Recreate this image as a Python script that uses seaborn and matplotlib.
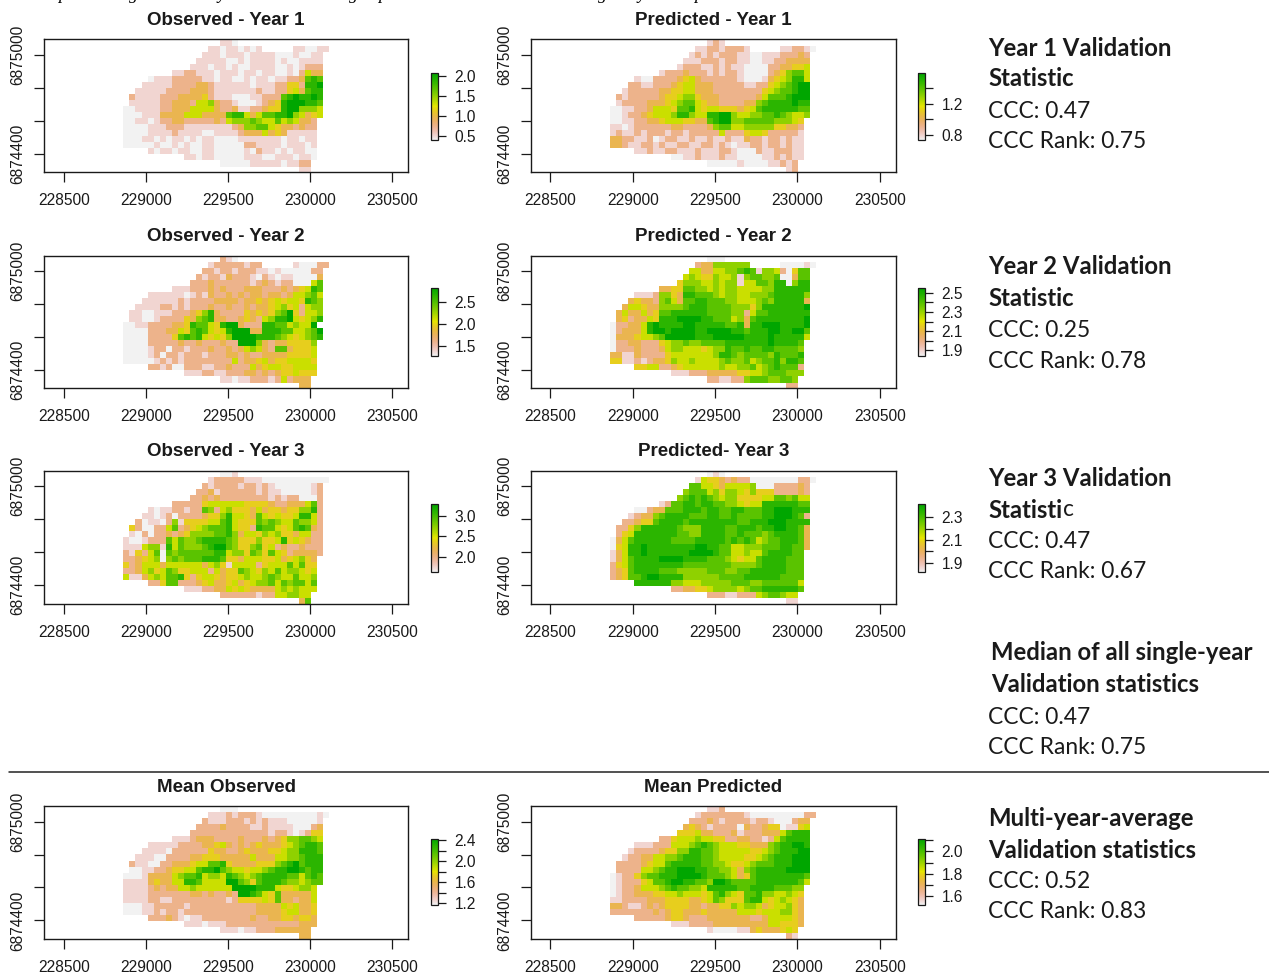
import colorsys
import numpy as np
import matplotlib
matplotlib.use("Agg")
import matplotlib.pyplot as plt
from matplotlib.colors import ListedColormap
from matplotlib.lines import Line2D
import seaborn as sns

sns.set_theme(style="ticks")
plt.rcParams["font.family"] = ["Liberation Sans", "DejaVu Sans"]

W, H = 1269, 974

# raster grid
N_ROWS, N_COLS = 22, 34
GRID_X0 = 228863
GRID_Y0 = 6875095
CELL = 36.8
X_LIM = (228380, 230597)
Y_LIM = (6874287, 6875095)
X_TICKS = [228500, 229000, 229500, 230000, 230500]
Y_TICKS = [6874400, 6874600, 6874800, 6875000]
Y_LABELS = ["6874400", "", "", "6875000"]

# first filled column of each raster row
ROW_START = [16, 14, 13, 12, 11, 8, 4, 3, 2, 1, 1, 0, 0, 0, 0, 0, 0, 0, 4, 10, 16, 29]

# share of the legend range that each level 0-9 stands for
LEVEL_SHARE = [0.0, 0.07, 0.21, 0.33, 0.44, 0.55, 0.66, 0.77, 0.88, 1.0]

# cell values as levels 0-9 between the low and high end of each legend, "." = no data
obs_y1 = [
    "110",
    "110110101.....110011",
    "11101110111100010011",
    "111110010111101001111",
    "1110110100111100101222",
    "11 2211 101110110110010 2533",
    "01112 22221 1011001011011 223 787",
    "111 11 2 222332 11111101112 2442 889",
    "11111 22 223332 111111121 122 453 788",
    "21 111 222 333342 11100011 222 7898 898",
    "11111 223 332 556 322 10001 23 4 8999 887",
    "001111 223 335555 32 23 1122 344 899 6 665",
    "00011 13 33 3555 333 3 788 53 5 77889 6 5 34 5",
    "00110122 33 22222 32 566 67655 756 53 32 .",
    "00001112 221 11111 1123 6677 543 32322",
    "00001111 211 110011 112 3335 343 11111",
    "00011010 11010110 00011111 11011011",
    "00000100 10100110 00002211 11011101",
    "10110110 01100000 10211010 1100",
    "11011 00000 11100 11101 10",
    "000001111101122",
    "11",
]
pred_y1 = [
    "121",
    "112212221.....112210",
    "12121222 1100111 22232",
    "111222122 11001 12 23333",
    "1222112121 10000 22 33445",
    "1222 322212122 10000 23 46 775",
    "1002 2223 45 3222222 10001 345 6 885",
    "22112 2234 55 33322222 112 245 67 899",
    "122222 3344 55 333222222 22 456 77 899",
    "2122222 34 4566 4 33322222 23 57 778 999",
    "1222 233 34 5677 5 43322223 3 678 888 988",
    "00 1122 3555 4778 54 55444 345 788 888 877",
    "00 1223 4555 6886 55 8899 655 667 7876 556",
    "00 1122 3345 5544 33 7899 6677 777 666 54 .",
    "11 0122 2222 3322 22 3677 5566 666 44332",
    "12 1121 2221 2212 22 2252 2245 542 22221",
    "33221120 12211211 21121132 21221211",
    "33211221 21122112 21210112 21221211",
    "11211221 11211122 10002112 2211",
    "00112 11121 10000 11212 11",
    "00000 10000 11212",
    "12",
]
obs_y2 = [
    "210",
    "122222122.....100022",
    "22122122 21101000 0022",
    "21221322 21021011 00003",
    "22232222 22123212 200057",
    "1112 2232322 23332223 234 587",
    "1111 1101 2132 23232 332332 355 675",
    "11111 1212 2223 33323 343454 554 876",
    "111122 1212 2232 23223 233456 452 566",
    "1100111 2223 468 32222 4343 467 9 42 556",
    "1100122 2243 678 33223 4325 688 9 54 568",
    "0011222 2334 877 54 899 3222 887 7 56 559",
    "0000 2223 354 787 545 899 93 3888 77 556 79",
    "0000 2222 47878 5454 699 99888 765 45678",
    "0000 22222 322322 2322 9996 323 344 446",
    "0000 122 0 22122232232 3565 327 734 445",
    "00001202 21222122 23323223 33344445",
    "00000121 21222222 22523345 34455554",
    "22120022 21122322 25345544 5555",
    "1112211 2223 3232 3445 444",
    "11011222 1252333",
    "33",
]
pred_y2 = [
    "000",
    "233666666.....000010",
    "55335566 78716652 0477",
    "565446556 1 67766 700 377",
    "4666556566 1 55776 880 688",
    "3344 776656566 555566 888888",
    "1112 6643 887776566 556667 888886",
    "34332 6753 778877766 555676 888883",
    "355433 6666 788877776 664688 888889",
    "3533534 7788 888877776 625778 888888",
    "3423354 8889 999887775 637888 888889",
    "02 2335 898888 998888877 838899 988889",
    "02 3335 899899 998899998 878889 988997",
    "03 3345 567999 998889999 988889 888885",
    "02 2332 224566 766777788 88888 988887",
    "02 2232 223566 555456687 78778 877776",
    "33113222 24555555 56887677 77687778",
    "44112123 34655655 55676675 67786887",
    "44552234 55555565 56675678 7772",
    "1112223333 344556 777666",
    "221122677766776",
    "22",
]
obs_y3 = [
    "001",
    "122222111 00000 000000",
    "21222212 21210000 0012",
    "22312222 22121100 00012",
    "22323222 22222121 220002",
    "2222 2455 55554 444322 333572",
    "1011 2212 2762 56444 353443 446682",
    "11012 0222 2344 68554 375454 458852",
    "201102 6144 4455 78544 476765 576652",
    "4200225 7234 5677 78544 287754 578732",
    "1020223 2346 6667 78635 546564 435522",
    "10 0122 275 766 78888 7644 46445 845 4322",
    "11 1566 185 766 67899 7644 67452 322 3222",
    "21 4257 076 777 77788 5664 76475 423 3332",
    "22 3456 067 677 78887 4435 55445 345 643",
    "42 3555 355 555 53564 1555 52455 575 744",
    "22356457 64455525 34476546 57566545",
    "51135657 78424554 34456556 76557556",
    "22477222 34533453 45667576 7757",
    "1112233545433335656555",
    "222222122 556655",
    "37",
]
pred_y3 = [
    "010",
    "154432322 00000 000220",
    "77554355 55600022 2232",
    "67775646 65464442 22232",
    "67878765 66444455 776755",
    "12778878 87766545 58888887 7",
    "00233777 88878877 88777889 99888",
    "12336788 88777887 78777788 999872",
    "22344788 88788888 88877888 9998888",
    "22468888 88766688 88778887 88998873",
    "24588888 88776688 88778777 67888873",
    "03578888 88777788 88878787 56778887 3",
    "04588988 88888899 88775566 67778877 3",
    "13588988 88888999 98775565 57888877 .",
    "13578888 99998888 77765455 78888777",
    "24578888 88887777 77776666 78888777",
    "23478888 77766666 77766778 88888777",
    "23477899 88886666 66777788 88887777",
    "88888866 55566666 77766777 7775",
    "2233445666656778888887",
    "222112225677655",
    "11",
]
mean_obs = [
    "000",
    "111212221 00000 000010",
    "21112221 21211100 0001",
    "22223222 21121111 00023",
    "22222222 22222122 101244",
    "11123332 22232223 234667765",
    "11111222 23345323 23433345 67887",
    "11110222 22243322 34333445 668887",
    "11100222 23344433 33353335 5667888",
    "21100223 33455778 43333444 67897888",
    "00112234 45578897 65545567 88998788",
    "000133335 67785665 87656788 88775787",
    "111134335 58875555 99764788 87665677",
    "111123233 55655555 59999888 5445665.",
    "111122222 22332322 32998754 7333335",
    "111122112 22222222 12444454 7332335",
    "00011222 22122222 22222233 33545334",
    "00011212 21222222 22222233 33455334",
    "22232101 12222222 23223344 3443",
    "1110111222 222222 222333",
    "111011222333333",
    "33",
]
mean_pred = [
    "112",
    "122222221 00000 000022",
    "22232122 22122100 0233",
    "34321222 20322344 01145",
    "44453322 23122233 357888",
    "22455565 54422332 21257888 8",
    "11122255 56787655 54433367 88998",
    "12222344 66887765 55554456 788899",
    "12233556 67888776 55554456 7888999",
    "22223455 78888877 66544567 77888999",
    "22225567 88999887 76653678 88889999",
    "012246778 88999987 77653478 88888887",
    "012224577 89988776 99877778 88888875",
    "012235556 78776658 88887788 8877766.",
    "012233344 55655545 78654778 6655654",
    "112222333 44443345 76444788 5456543",
    "33211232 34444332 33446566 53455643",
    "22222223 23443334 33333555 45556643",
    "22222344 32223333 33322355 5543",
    "1112222333 333333 554443",
    "100001134333454",
    "21",
]

panel_titles = ["Observed - Year 1", "Predicted - Year 1", "Observed - Year 2", "Predicted - Year 2",
                "Observed - Year 3", "Predicted- Year 3", "Mean Observed", "Mean Predicted"]
panel_rasters = [obs_y1, pred_y1, obs_y2, pred_y2, obs_y3, pred_y3, mean_obs, mean_pred]
legend_low = [0.40, 0.735, 1.28, 1.844, 1.62, 1.818, 1.175, 1.526]
legend_high = [2.08, 1.59, 2.83, 2.552, 3.295, 2.418, 2.425, 2.112]
legend_ticks = [
    [0.5, 1.0, 1.5, 2.0],
    [0.8, 1.0, 1.2, 1.4],
    [1.5, 2.0, 2.5],
    [1.9, 2.0, 2.1, 2.2, 2.3, 2.4, 2.5],
    [2.0, 2.5, 3.0],
    [1.9, 2.0, 2.1, 2.2, 2.3],
    [1.2, 1.4, 1.6, 1.8, 2.0, 2.2, 2.4],
    [1.6, 1.7, 1.8, 1.9, 2.0, 2.1],
]
legend_labels = [
    ["0.5", "1.0", "1.5", "2.0"],
    ["0.8", "", "1.2", ""],
    ["1.5", "2.0", "2.5"],
    ["1.9", "", "2.1", "", "2.3", "", "2.5"],
    ["2.0", "2.5", "3.0"],
    ["1.9", "", "2.1", "", "2.3"],
    ["1.2", "", "1.6", "", "2.0", "", "2.4"],
    ["1.6", "", "1.8", "", "2.0", ""],
]

# layout in pixels
col_left = [(44, 408.3), (530.7, 895.7)]
col_bar = [(431, 438), (917.7, 925)]
col_ylabel = [18, 505]
row_axes = [(39.5, 172.3), (255.7, 388.3), (470.7, 604), (806, 939)]
row_bar = [(73, 140), (287.7, 355.7), (504, 572), (838.7, 904.7)]

# side notes: x, y, text, bold
note_lines = [
    (988, 48, "Year 1 Validation", True), (988, 79, "Statistic", True),
    (988, 111, "CCC: 0.47", False), (988, 142, "CCC Rank: 0.75", False),
    (988, 267, "Year 2 Validation", True), (988, 298, "Statistic", True),
    (988, 330, "CCC: 0.25", False), (988, 361, "CCC Rank: 0.78", False),
    (988, 478, "Year 3 Validation", True),
    (988, 541, "CCC: 0.47", False), (988, 572, "CCC Rank: 0.67", False),
    (991, 653, "Median of all single-year", True), (991, 684, "Validation statistics", True),
    (988, 717, "CCC: 0.47", False), (988, 748, "CCC Rank: 0.75", False),
    (988, 819, "Multi-year-average", True), (988, 850, "Validation statistics", True),
    (988, 881, "CCC: 0.52", False), (988, 912, "CCC Rank: 0.83", False),
]
NOTE_FONT = "Lato"
NOTE_SIZE = 16.4
NOTE_BOLD_SIZE = 17.2

# bits of the cut off caption at the very top
caption_bits = [("p", 58), ("g", 129), ("y", 218), ("g", 349), ("p", 378), ("g", 598), ("y", 638), ("p", 694)]


def terrain_reversed(n=255):
    # same ramp as R's rev(terrain.colors(n))
    k = n // 2
    first = [colorsys.hsv_to_rgb(h, 1.0, v) for h, v in
             zip(np.linspace(4 / 12, 2 / 12, k), np.linspace(0.65, 0.9, k))]
    h2 = np.linspace(2 / 12, 0, n - k + 1)[1:]
    s2 = np.linspace(1, 0, n - k + 1)[1:]
    v2 = np.linspace(0.9, 0.95, n - k + 1)[1:]
    second = [colorsys.hsv_to_rgb(h, s, v) for h, s, v in zip(h2, s2, v2)]
    return ListedColormap((first + second)[::-1])


def raster_values(rows, low, high):
    values = np.full((N_ROWS, N_COLS), np.nan)
    for i, row in enumerate(rows):
        cells = row.replace(" ", "")
        for k, ch in enumerate(cells):
            j = ROW_START[i] + k
            if ch != "." and j < N_COLS:
                values[i, j] = low + LEVEL_SHARE[int(ch)] * (high - low)
    return values


def px_axes(fig, x0, x1, y0, y1):
    return fig.add_axes([x0 / W, 1 - y1 / H, (x1 - x0) / W, (y1 - y0) / H])


def px_text(fig, x, y, s, **kw):
    return fig.text(x / W, 1 - y / H, s, **kw)


fig = plt.figure(figsize=(W / 100, H / 100), dpi=100)
cmap = terrain_reversed()
INK = "#1a1a1a"

for p, title in enumerate(panel_titles):
    r, c = p // 2, p % 2
    ax = px_axes(fig, col_left[c][0], col_left[c][1], row_axes[r][0], row_axes[r][1])
    cax = px_axes(fig, col_bar[c][0], col_bar[c][1], row_bar[r][0], row_bar[r][1])
    low, high = legend_low[p], legend_high[p]
    sns.heatmap(raster_values(panel_rasters[p], low, high), ax=ax, cbar_ax=cax, cmap=cmap,
                vmin=low, vmax=high, xticklabels=False, yticklabels=False,
                cbar_kws={"ticks": legend_ticks[p]})

    # heatmap works in cell units, world coordinates go through these
    ax.set_xlim((X_LIM[0] - GRID_X0) / CELL, (X_LIM[1] - GRID_X0) / CELL)
    ax.set_ylim((GRID_Y0 - Y_LIM[0]) / CELL, (GRID_Y0 - Y_LIM[1]) / CELL)
    ax.set_xticks([(v - GRID_X0) / CELL for v in X_TICKS])
    ax.set_xticklabels([str(v) for v in X_TICKS], fontsize=11.2, color=INK)
    ax.set_yticks([(GRID_Y0 - v) / CELL for v in Y_TICKS])
    ax.set_yticklabels([""] * len(Y_TICKS))
    ax.tick_params(axis="x", length=7.2, width=0.9, pad=8, color=INK)
    ax.tick_params(axis="y", length=7.2, width=0.9, color=INK)
    ax.set_frame_on(True)
    for side in ax.spines.values():
        side.set_visible(True)
        side.set_linewidth(1.0)
        side.set_color(INK)
    for v, lab in zip(Y_TICKS, Y_LABELS):
        if lab:
            y_px = row_axes[r][0] + (Y_LIM[1] - v) / (Y_LIM[1] - Y_LIM[0]) * (row_axes[r][1] - row_axes[r][0])
            px_text(fig, col_ylabel[c], y_px, lab, rotation=90, ha="center", va="center",
                    fontsize=11.2, color=INK)
    px_text(fig, (col_left[c][0] + col_left[c][1]) / 2, row_axes[r][0] - 19, title, ha="center", va="center",
            fontsize=13.5, fontweight="bold", color=INK)

    cbar = ax.collections[0].colorbar
    cbar.set_ticks(legend_ticks[p])
    cbar.set_ticklabels(legend_labels[p])
    cbar.ax.tick_params(length=5.8, width=0.9, pad=6, labelsize=11.2, labelcolor=INK, color=INK)
    cbar.outline.set_visible(True)
    cbar.outline.set_linewidth(0.9)
    cbar.outline.set_edgecolor(INK)

for x, y, s, bold in note_lines:
    px_text(fig, x, y, s, family=NOTE_FONT, fontsize=NOTE_BOLD_SIZE if bold else NOTE_SIZE,
            fontweight="bold" if bold else "normal", ha="left", va="center", color=INK)

# the third "Statistic" has a plain last letter
head = px_text(fig, 988, 510, "Statisti", family=NOTE_FONT, fontsize=NOTE_BOLD_SIZE, fontweight="bold",
               ha="left", va="center", color=INK)
box = head.get_window_extent(fig.canvas.get_renderer())
px_text(fig, box.x1 + 1, 510, "c", family=NOTE_FONT, fontsize=NOTE_SIZE, ha="left", va="center", color=INK)

for ch, x in caption_bits:
    px_text(fig, x, -1, ch, family="Liberation Serif", style="italic", fontsize=13, ha="left", va="baseline",
            color="black")

fig.add_artist(Line2D([9 / W, 1], [1 - 771.5 / H] * 2, color="#222222", lw=1.1, transform=fig.transFigure))

fig.savefig("out.png", dpi=100, facecolor="white")
